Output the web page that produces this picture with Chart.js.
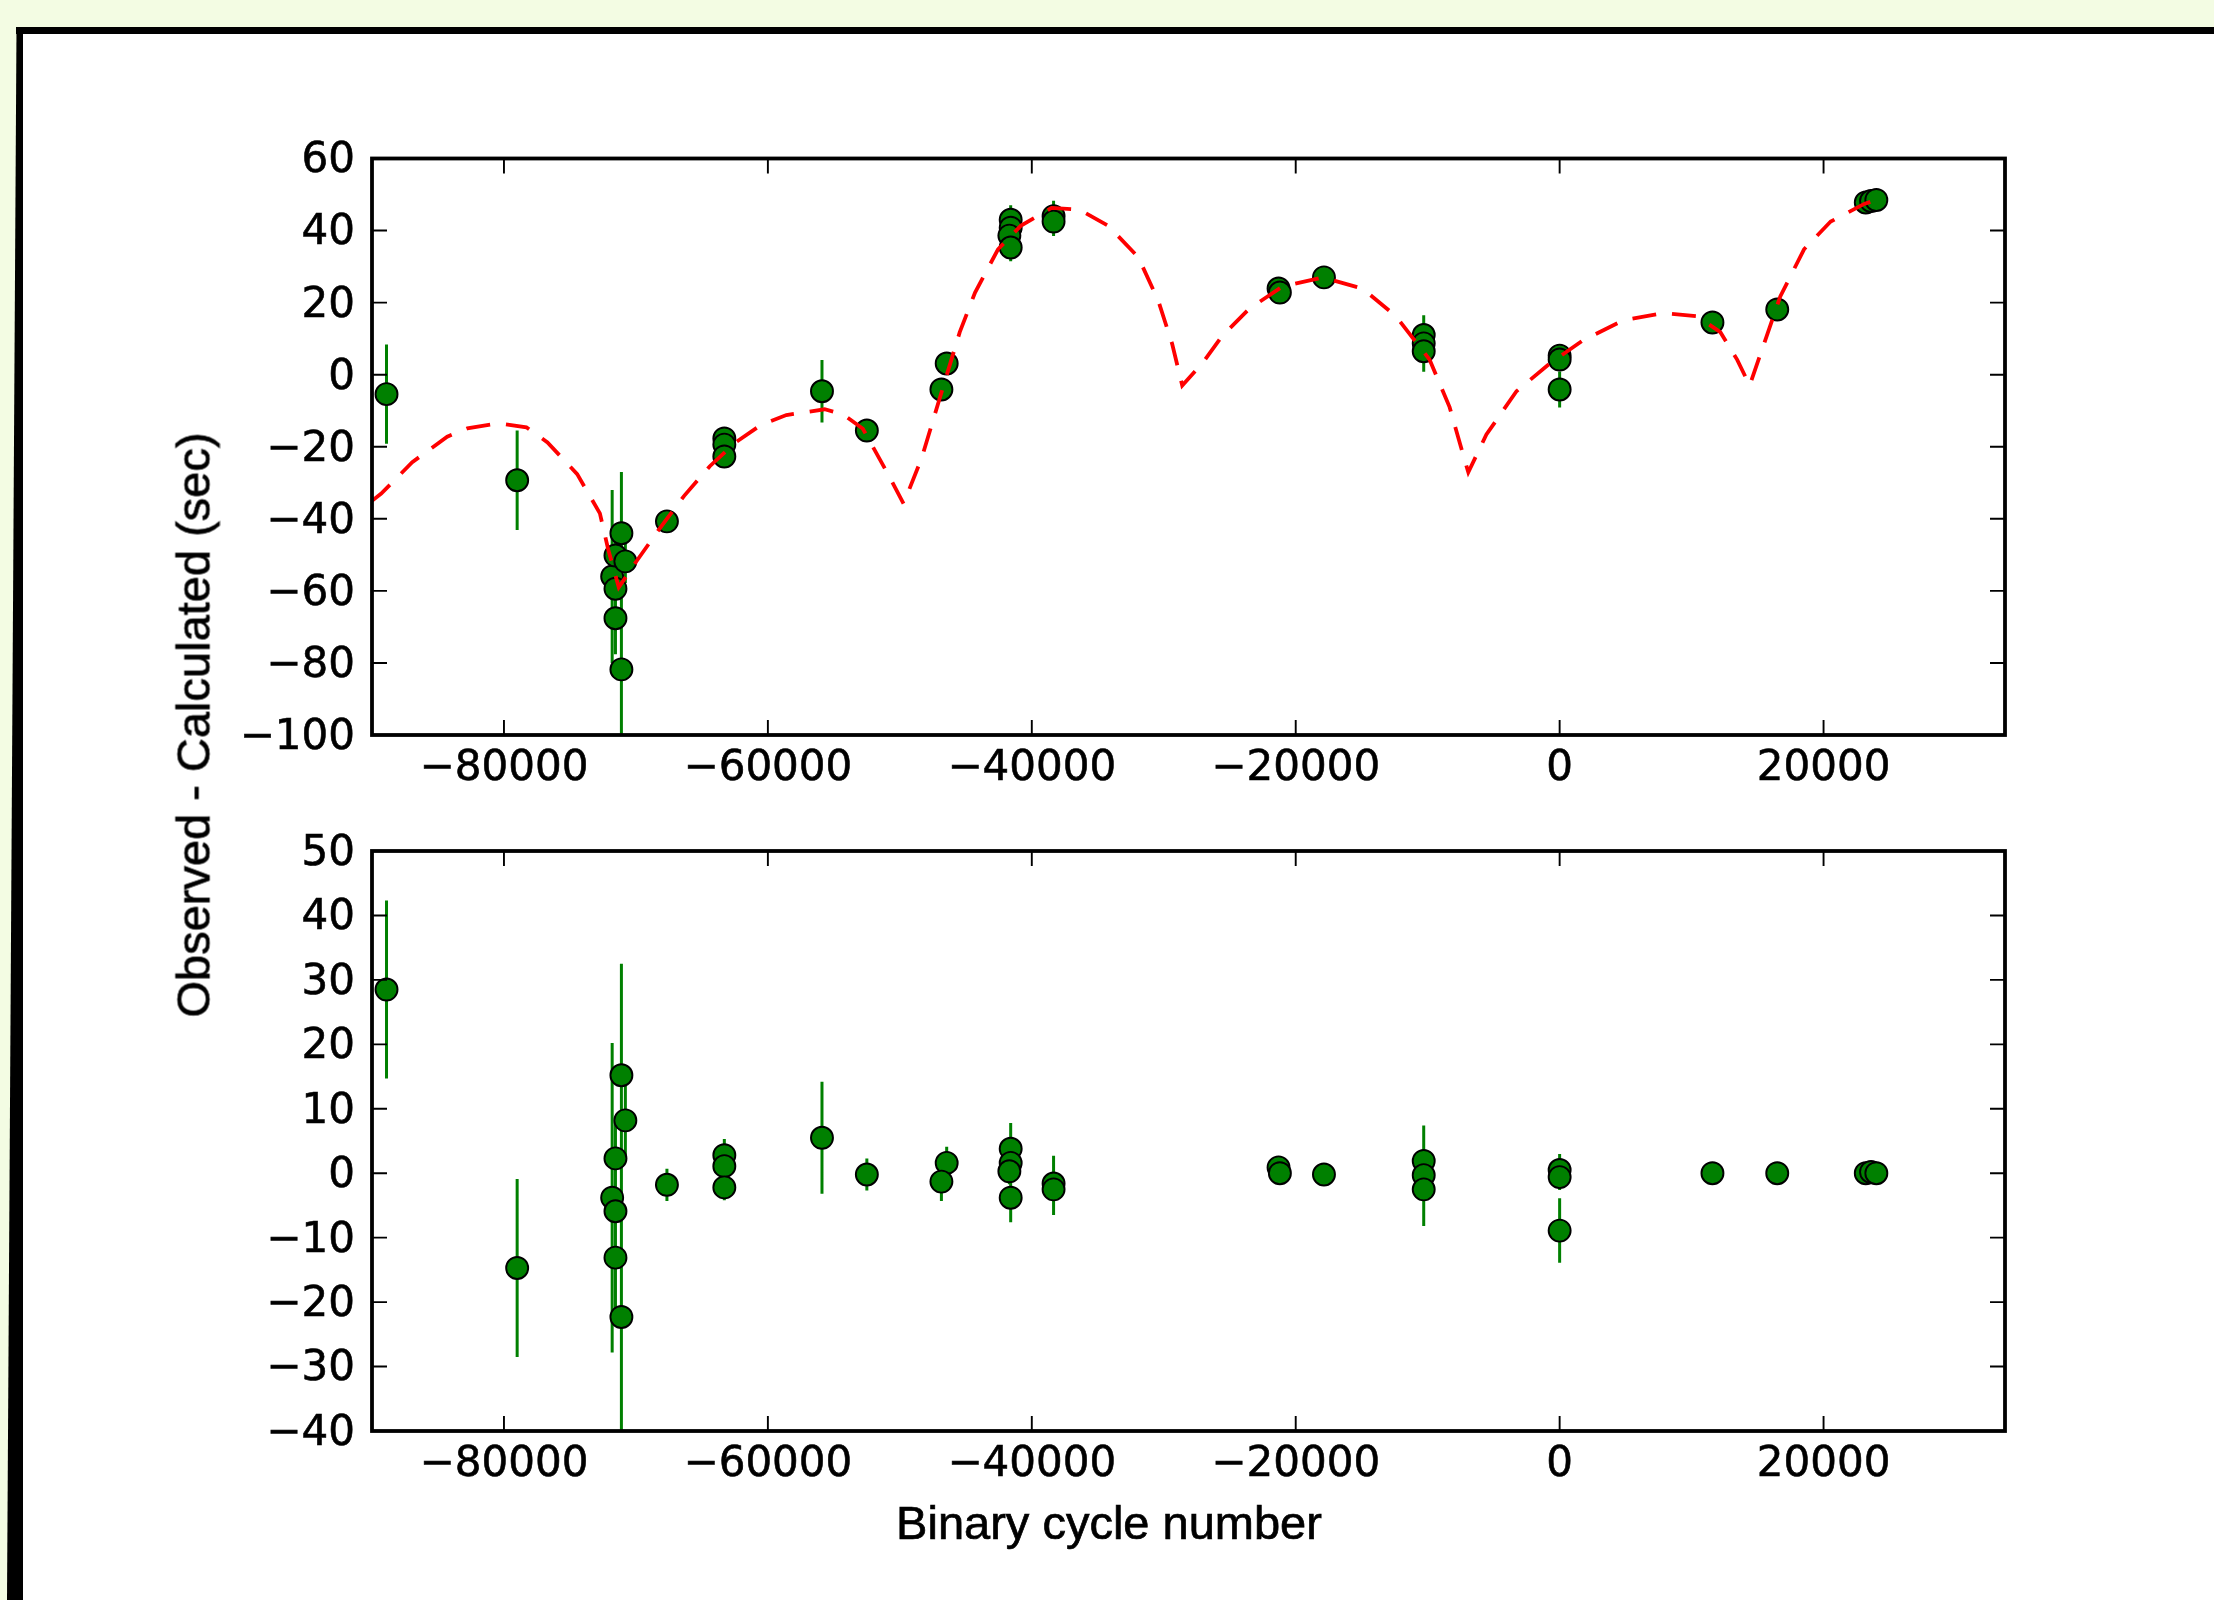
<!DOCTYPE html>
<html><head><meta charset="utf-8">
<title>Observed - Calculated</title>
<script src="https://cdn.jsdelivr.net/npm/chart.js"></script>
<style>
  body {
    margin: 0;
    width: 2214px;
    height: 1600px;
    overflow: hidden;
    position: relative;
    background-color: #f3fce3;
  }
  .panel { position: absolute; left: 23px; top: 34px; right: 0; bottom: 0; background: #fff; }
  .topbar { position: absolute; left: 16px; top: 27px; right: 0; height: 7px; background: #000; }
  .leftbar {
    position: absolute; left: 7px; top: 27px; width: 16px; height: 1573px; background: #000;
    clip-path: polygon(9.5px 0, 16px 0, 16px 100%, 0 100%);
  }
  canvas { position: absolute; left: 0; }
  #ocChart { top: 0; }
  #residChart { top: 800px; }
  .axis-title {
    position: absolute;
    font-family: 'Liberation Sans', Arial, sans-serif;
    font-size: 47px;
    line-height: 47px;
    color: #000;
    white-space: nowrap;
    -webkit-text-stroke: 0.7px #000;
  }
  #xTitle { left: 1109px; top: 1499px; transform: translateX(-50%); }
  #yTitle { left: 193px; top: 725px; transform: translate(-50%, -50%) rotate(-90deg); }
</style>
</head>
<body>
<div class="panel"></div>
<div class="topbar"></div>
<div class="leftbar"></div>
<canvas id="ocChart" width="2214" height="800"></canvas>
<canvas id="residChart" width="2214" height="800"></canvas>
<div class="axis-title" id="yTitle">Observed - Calculated (sec)</div>
<div class="axis-title" id="xTitle">Binary cycle number</div>

<script>
// eclipse timings: cycle number, O-C (sec), residual after the model, 1-sigma error
const cycles = [-88900, -79000, -71800, -71550, -71550, -71550, -70800, -71100, -71100,
  -67650, -63300, -63300, -63300, -55900, -52500, -46450, -46850,
  -41600, -41600, -41700, -41600, -38350, -38350, -21300, -21200, -17860,
  -10300, -10300, -10300, 0, 0, 0, 11580, 16490, 23200, 23600, 24000];
const ocObserved = [-5.4, -29.3, -56.0, -50.2, -59.4, -67.6, -51.8, -44.0, -81.8,
  -40.7, -17.7, -19.4, -22.7, -4.6, -15.5, 3.1, -4.1,
  43.0, 40.8, 38.6, 35.3, 44.0, 42.5, 23.9, 22.8, 27.0,
  11.0, 8.7, 6.5, 5.3, 4.2, -4.1, 14.5, 18.1, 47.8, 48.2, 48.5];
const ocResidual = [28.5, -14.7, -3.8, 2.3, -5.9, -13.1, 8.2, 15.2, -22.3,
  -1.8, 2.8, 1.1, -2.2, 5.5, -0.2, 1.6, -1.3,
  3.8, 1.6, 0.3, -3.8, -1.6, -2.5, 0.9, 0.0, -0.2,
  1.9, -0.3, -2.5, 0.5, -0.6, -8.9, 0.0, 0.0, 0.0, 0.2, 0.0];
const ocError = [13.8, 13.8, 24, 6, 8, 10, 6, 10.4, 54.8,
  2.5, 2.5, 3, 2, 8.7, 2.5, 2.5, 3,
  4, 3, 2, 3.8, 4.3, 4, 1, 1, 0.5,
  5.5, 2, 5.7, 2.5, 2, 5, 0.5, 0.5, 0.5, 0.5, 0.5];

// fitted model curve (red dashed)
const modelCycles = [-90000, -89300, -86950, -84300, -82780, -80400, -78300, -76700, -74450, -72730,
  -72100, -71300, -70000, -68260, -66360, -64400, -62450, -60540, -58600, -55700,
  -54300, -52800, -50880, -49720, -48350, -47000, -45460, -44300, -42560, -40840,
  -38500, -36400, -34200, -31930, -30420, -29360, -28600, -27090, -25580, -23530,
  -21030, -17970, -14930, -12400, -9860, -8340, -7330, -6920, -5550, -3270,
  -750, 1800, 4840, 7880, 10400, 12180, 13450, 14400, 15480, 16720,
  18520, 20540, 23080, 24000];
const modelOC = [-35, -33, -24.3, -17.2, -14.9, -13.5, -14.6, -18.8, -27.6, -38.5,
  -48.5, -59, -52, -43, -33.7, -25.4, -18.8, -14, -11.2, -9.6,
  -11, -15, -27.7, -35.8, -23.2, -6.8, 11.8, 22.8, 34.8, 41.3,
  46.3, 45.8, 41.3, 32.6, 20.6, 8.5, -3, 3.1, 10.7, 18.3,
  24.4, 27, 23.9, 16.2, 4.2, -9, -22, -27.1, -16.6, -4.6,
  3.1, 9.6, 15.1, 17.1, 16.2, 11.8, 4.2, -3, 8.5, 21.7,
  34.8, 42.5, 47.4, 48.5];

const xTicks = [-80000, -60000, -40000, -20000, 0, 20000];
const ocTicks = [-100, -80, -60, -40, -20, 0, 20, 40, 60];
const residTicks = [-40, -30, -20, -10, 0, 10, 20, 30, 40, 50];

const GREEN = '#008000';

function fmt(v) {
  return v < 0 ? '\u2212' + Math.abs(v) : String(v);
}

function errorBarPoints(ys) {
  const pts = [];
  cycles.forEach((c, i) => {
    pts.push({x: c, y: ys[i] - ocError[i]});
    pts.push({x: c, y: ys[i] + ocError[i]});
    pts.push({x: c, y: null});
  });
  return pts;
}

// matplotlib-style frame with inward ticks on all four sides
const frameTicks = {
  id: 'frameTicks',
  afterDatasetsDraw(chart) {
    const {ctx, chartArea: a, scales: {x, y}} = chart;
    ctx.save();
    ctx.strokeStyle = '#000';
    ctx.lineWidth = 1.9;
    ctx.beginPath();
    x.ticks.forEach(t => {
      const px = x.getPixelForValue(t.value);
      ctx.moveTo(px, a.bottom); ctx.lineTo(px, a.bottom - 15);
      ctx.moveTo(px, a.top); ctx.lineTo(px, a.top + 15);
    });
    y.ticks.forEach(t => {
      const py = y.getPixelForValue(t.value);
      ctx.moveTo(a.left, py); ctx.lineTo(a.left + 15, py);
      ctx.moveTo(a.right, py); ctx.lineTo(a.right - 15, py);
    });
    ctx.stroke();
    ctx.lineWidth = 3.8;
    ctx.strokeRect(a.left, a.top, a.right - a.left, a.bottom - a.top);
    ctx.restore();
  }
};

const tickFont = {family: "'DejaVu Sans'", size: 42};

function makeChart(id, ys, yMin, yMax, yTicks, padTop, xHeight, withModel) {
  const datasets = [];
  if (withModel) {
    datasets.push({
      type: 'line',
      data: modelCycles.map((c, i) => ({x: c, y: modelOC[i]})),
      borderColor: '#ff0000',
      borderWidth: 3.8,
      borderDash: [24, 16],
      pointRadius: 0,
      tension: 0,
      order: 0
    });
  }
  datasets.push({
    type: 'scatter',
    data: cycles.map((c, i) => ({x: c, y: ys[i]})),
    backgroundColor: GREEN,
    borderColor: '#000',
    borderWidth: 1.9,
    pointRadius: 11,
    order: 1
  });
  datasets.push({
    type: 'line',
    data: errorBarPoints(ys),
    borderColor: GREEN,
    borderWidth: 3,
    pointRadius: 0,
    spanGaps: false,
    order: 2
  });

  return new Chart(document.getElementById(id), {
    type: 'scatter',
    data: {datasets},
    options: {
      responsive: false,
      animation: false,
      layout: {padding: {top: padTop, right: 209, left: 0, bottom: 0}},
      plugins: {legend: {display: false}, tooltip: {enabled: false}},
      scales: {
        x: {
          type: 'linear',
          min: -90000,
          max: 33750,
          grid: {display: false, drawTicks: false},
          border: {display: false},
          afterBuildTicks: s => { s.ticks = xTicks.map(v => ({value: v})); },
          afterFit: s => { s.height = xHeight; },
          ticks: {
            padding: 9,
            color: '#000',
            textStrokeColor: '#000',
            textStrokeWidth: 0.6,
            font: tickFont,
            maxRotation: 0,
            callback: v => fmt(v)
          }
        },
        y: {
          type: 'linear',
          min: yMin,
          max: yMax,
          grid: {display: false, drawTicks: false},
          border: {display: false},
          afterBuildTicks: s => { s.ticks = yTicks.map(v => ({value: v})); },
          afterFit: s => { s.width = 372; },
          ticks: {
            padding: 17,
            labelOffset: 3,
            color: '#000',
            textStrokeColor: '#000',
            textStrokeWidth: 0.6,
            font: tickFont,
            callback: v => fmt(v)
          }
        }
      }
    },
    plugins: [frameTicks]
  });
}

makeChart('ocChart', ocObserved, -100, 60, ocTicks, 158.5, 65, true);
makeChart('residChart', ocResidual, -40, 50, residTicks, 51, 169, false);
</script>
</body></html>
